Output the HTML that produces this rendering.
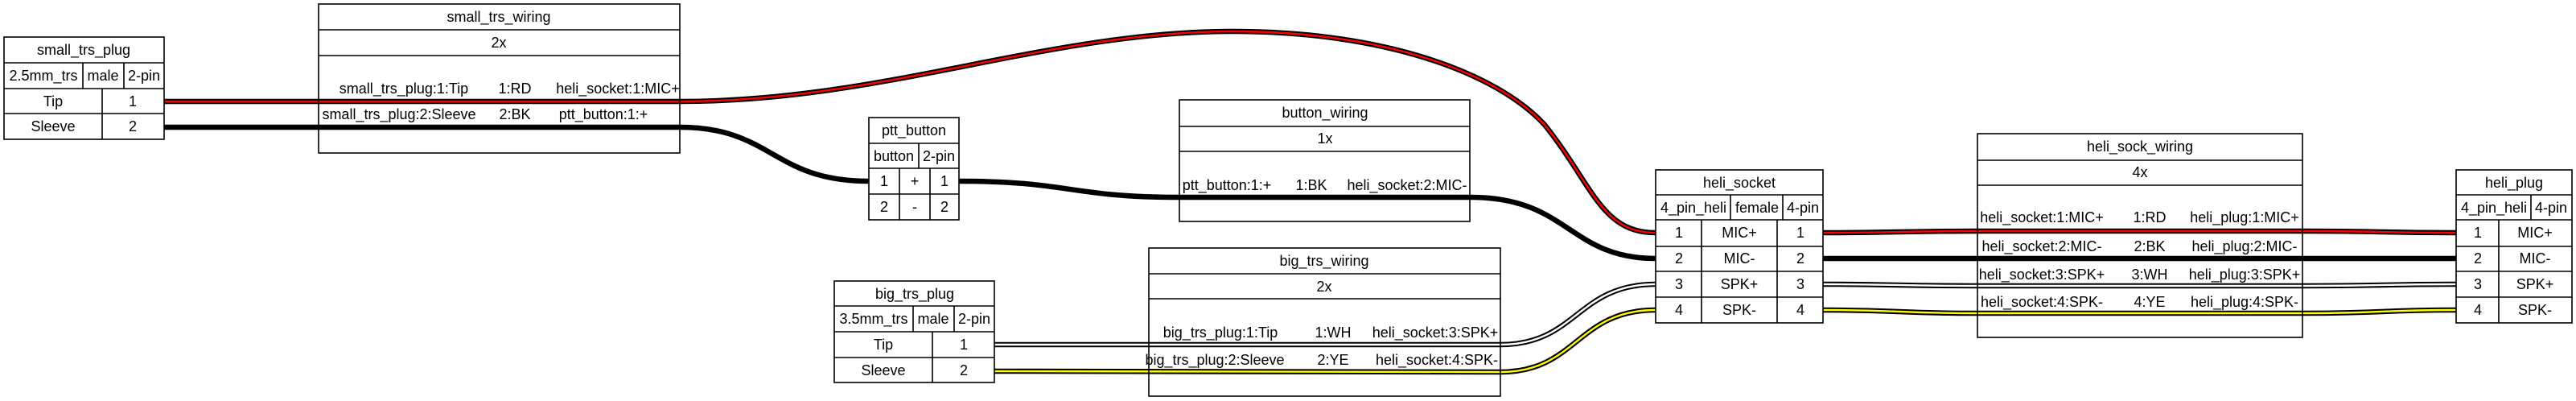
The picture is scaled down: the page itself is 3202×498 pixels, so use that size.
<!DOCTYPE html>
<html><head><meta charset="utf-8"><style>
html,body{margin:0;padding:0;background:#fff;}
svg{display:block;}
text{font-family:"Liberation Sans",Arial,sans-serif;font-size:18px;fill:#000;text-anchor:middle;dominant-baseline:central;}
.b{fill:none;stroke:#000;stroke-width:1.6;}
.wo{fill:none;stroke:#000;stroke-width:6.5;}
.wr{fill:none;stroke:#ff0000;stroke-width:2.4;}
.ww{fill:none;stroke:#ffffff;stroke-width:2.4;}
.wy{fill:none;stroke:#ffff00;stroke-width:2.4;}
</style></head><body>
<svg width="3202" height="498" viewBox="0 0 3202 498" xmlns="http://www.w3.org/2000/svg">
<rect x="0" y="0" width="3202" height="498" fill="#fff"/>

<g>
<path class="wo" d="M204,126 L845,126 C1100,126 1300,39 1533,39 C1720,39 1860,90 1920,155 C1980,230 1990,289 2058,289"/>
<path class="wr" d="M204,126 L845,126 C1100,126 1300,39 1533,39 C1720,39 1860,90 1920,155 C1980,230 1990,289 2058,289"/>

<path class="wo" d="M204,158 L845,158 C960,158 960,225 1080,225"/>
<path class="wo" d="M1192,225 C1330,225 1330,245 1466,245 L1828,245 C1950,245 1950,321 2058,321"/>

<path class="wo" d="M1236,428 L1865,428 C1960,428 1960,353 2058,353"/>
<path class="ww" d="M1236,428 L1865,428 C1960,428 1960,353 2058,353"/>
<path class="wo" d="M1236,461 L1865,462 C1960,462 1960,385 2058,385"/>
<path class="wy" d="M1236,461 L1865,462 C1960,462 1960,385 2058,385"/>

<path class="wo" d="M2266,289 C2360,289 2360,287 2458,287 L2862,287 C2960,287 2960,289 3053,289"/>
<path class="wr" d="M2266,289 C2360,289 2360,287 2458,287 L2862,287 C2960,287 2960,289 3053,289"/>
<path class="wo" d="M2266,321 C2360,321 2360,321 2458,321 L2862,321 C2960,321 2960,321 3053,321"/>
<path class="wo" d="M2266,353 C2360,353 2360,355 2458,355 L2862,355 C2960,355 2960,353 3053,353"/>
<path class="ww" d="M2266,353 C2360,353 2360,355 2458,355 L2862,355 C2960,355 2960,353 3053,353"/>
<path class="wo" d="M2266,385 C2360,385 2360,389 2458,389 L2862,389 C2960,389 2960,385 3053,385"/>
<path class="wy" d="M2266,385 C2360,385 2360,389 2458,389 L2862,389 C2960,389 2960,385 3053,385"/>
</g>

<g>
<rect class="b" x="5" y="46" width="199" height="127" fill="#fff"/>
<path class="b" d="M5,78H204M5,110H204M5,141H204M103,78V110M154,78V110M127,110V173"/>
<text x="104" y="62">small_trs_plug</text>
<text x="54" y="94">2.5mm_trs</text><text x="128" y="94">male</text><text x="179" y="94">2-pin</text>
<text x="66" y="126">Tip</text><text x="165" y="126">1</text>
<text x="66" y="157">Sleeve</text><text x="165" y="157">2</text>
</g>

<g>
<rect class="b" x="396" y="5" width="449" height="185"/>
<path class="b" d="M396,37H845M396,69H845"/>
<text x="620" y="21">small_trs_wiring</text>
<text x="620" y="53">2x</text>
<text x="502" y="110">small_trs_plug:1:Tip</text><text x="640" y="110">1:RD</text><text x="768" y="110">heli_socket:1:MIC+</text>
<text x="496" y="142">small_trs_plug:2:Sleeve</text><text x="640" y="142">2:BK</text><text x="750" y="142">ptt_button:1:+</text>
</g>

<g>
<rect class="b" x="1080" y="146" width="112" height="127" fill="#fff"/>
<path class="b" d="M1080,178H1192M1080,209H1192M1080,241H1192M1142,178V209M1118,209V273M1156,209V273"/>
<text x="1136" y="162">ptt_button</text>
<text x="1111" y="194">button</text><text x="1167" y="194">2-pin</text>
<text x="1099" y="225">1</text><text x="1137" y="225">+</text><text x="1174" y="225">1</text>
<text x="1099" y="257">2</text><text x="1137" y="257">-</text><text x="1174" y="257">2</text>
</g>

<g>
<rect class="b" x="1466" y="124" width="361" height="151"/>
<path class="b" d="M1466,157H1827M1466,188H1827"/>
<text x="1647" y="140">button_wiring</text>
<text x="1647" y="172">1x</text>
<text x="1525" y="230">ptt_button:1:+</text><text x="1630" y="230">1:BK</text><text x="1749" y="230">heli_socket:2:MIC-</text>
</g>

<g>
<rect class="b" x="1037" y="349" width="199" height="126" fill="#fff"/>
<path class="b" d="M1037,380H1236M1037,412H1236M1037,444H1236M1135,380V412M1186,380V412M1159,412V475"/>
<text x="1137" y="365">big_trs_plug</text>
<text x="1086" y="396">3.5mm_trs</text><text x="1160" y="396">male</text><text x="1211" y="396">2-pin</text>
<text x="1098" y="428">Tip</text><text x="1198" y="428">1</text>
<text x="1098" y="460">Sleeve</text><text x="1198" y="460">2</text>
</g>

<g>
<rect class="b" x="1428" y="308" width="437" height="184"/>
<path class="b" d="M1428,340H1865M1428,371H1865"/>
<text x="1646" y="324">big_trs_wiring</text>
<text x="1646" y="356">2x</text>
<text x="1517" y="413">big_trs_plug:1:Tip</text><text x="1657" y="413">1:WH</text><text x="1784" y="413">heli_socket:3:SPK+</text>
<text x="1510" y="447">big_trs_plug:2:Sleeve</text><text x="1657" y="447">2:YE</text><text x="1786" y="447">heli_socket:4:SPK-</text>
</g>

<g>
<rect class="b" x="2058" y="211" width="208" height="190" fill="#fff"/>
<path class="b" d="M2058,242H2266M2058,273H2266M2058,306H2266M2058,337H2266M2058,369H2266M2151,242V273M2216,242V273M2115,273V401M2209,273V401"/>
<text x="2162" y="227">heli_socket</text>
<text x="2105" y="258">4_pin_heli</text><text x="2184" y="258">female</text><text x="2241" y="258">4-pin</text>
<text x="2087" y="289">1</text><text x="2162" y="289">MIC+</text><text x="2238" y="289">1</text>
<text x="2087" y="321">2</text><text x="2162" y="321">MIC-</text><text x="2238" y="321">2</text>
<text x="2087" y="353">3</text><text x="2162" y="353">SPK+</text><text x="2238" y="353">3</text>
<text x="2087" y="385">4</text><text x="2162" y="385">SPK-</text><text x="2238" y="385">4</text>
</g>

<g>
<rect class="b" x="2458" y="166" width="404" height="253"/>
<path class="b" d="M2458,199H2862M2458,230H2862"/>
<text x="2660" y="182">heli_sock_wiring</text>
<text x="2660" y="214">4x</text>
<text x="2538" y="270">heli_socket:1:MIC+</text><text x="2672" y="270">1:RD</text><text x="2790" y="270">heli_plug:1:MIC+</text>
<text x="2538" y="306">heli_socket:2:MIC-</text><text x="2672" y="306">2:BK</text><text x="2790" y="306">heli_plug:2:MIC-</text>
<text x="2538" y="341">heli_socket:3:SPK+</text><text x="2672" y="341">3:WH</text><text x="2790" y="341">heli_plug:3:SPK+</text>
<text x="2538" y="375">heli_socket:4:SPK-</text><text x="2672" y="375">4:YE</text><text x="2790" y="375">heli_plug:4:SPK-</text>
</g>

<g>
<rect class="b" x="3053" y="211" width="144" height="190" fill="#fff"/>
<path class="b" d="M3053,242H3197M3053,273H3197M3053,306H3197M3053,337H3197M3053,369H3197M3146,242V273M3106,273V401"/>
<text x="3125" y="227">heli_plug</text>
<text x="3100" y="258">4_pin_heli</text><text x="3171" y="258">4-pin</text>
<text x="3080" y="289">1</text><text x="3151" y="289">MIC+</text>
<text x="3080" y="321">2</text><text x="3151" y="321">MIC-</text>
<text x="3080" y="353">3</text><text x="3151" y="353">SPK+</text>
<text x="3080" y="385">4</text><text x="3151" y="385">SPK-</text>
</g>
</svg>
</body></html>
